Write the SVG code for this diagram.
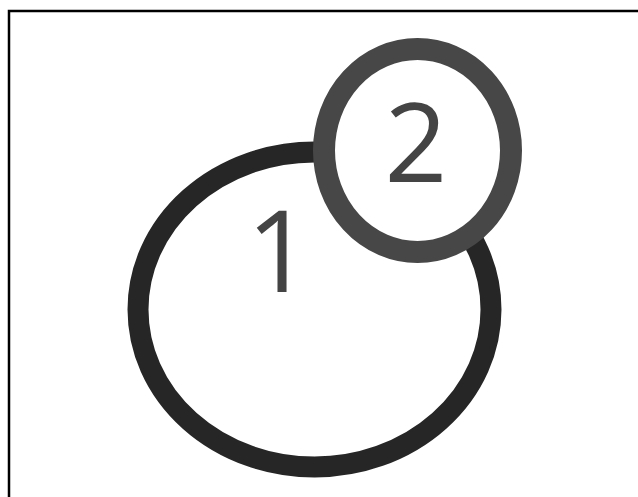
<svg xmlns="http://www.w3.org/2000/svg" width="638" height="497" viewBox="0 0 638 497">
<style>
.frame{fill:none;stroke:#000;stroke-width:2.5}
.ring{fill:#fff}
.num{font-family:"Open Sans","Noto Sans","Liberation Sans",sans-serif;font-weight:400;fill:#444;text-anchor:middle}
</style>
<rect width="638" height="497" fill="#fff"/>
<path class="frame" d="M9 497V11H638"/>
<g id="node1">
<ellipse class="ring" cx="314.5" cy="309.5" rx="176.5" ry="157.5" stroke="#262626" stroke-width="21"/>
<text class="num" x="279" y="292" font-size="114">1</text>
</g>
<g id="node2">
<ellipse class="ring" cx="417.5" cy="150.5" rx="93.5" ry="101.5" stroke="#474747" stroke-width="22"/>
<text class="num" x="416" y="182" font-size="110">2</text>
</g>
<g id="connectors"/>
</svg>
